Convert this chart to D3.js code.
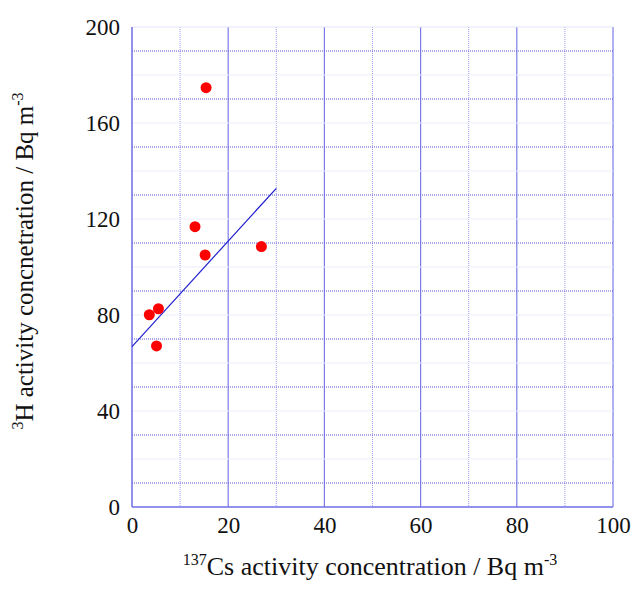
<!DOCTYPE html>
<html>
<head>
<meta charset="utf-8">
<script src="https://cdn.jsdelivr.net/npm/d3@7"></script>
<style>
  body { margin: 0; background: #fff; }
  text { font-family: "Liberation Serif", "Times New Roman", serif; fill: #111; }
</style>
</head>
<body>
<div id="chart"></div>
<script>
// 137Cs (x) vs 3H (y), Bq m-3
const cs137 = [15.4, 13.1, 15.2, 26.9, 3.6, 5.5, 5.1]
const tritium = [174.7, 116.8, 105, 108.5, 80.1, 82.6, 67.1]
// fitted line end points
const fitX = [0, 30]
const fitY = [66.8, 132.8]
const xTicks = [0, 20, 40, 60, 80, 100]
const yTicks = [0, 40, 80, 120, 160, 200]

const width = 637
const height = 592
const plotLeft = 132, plotRight = 613, plotTop = 27, plotBottom = 507

const xScale = d3.scaleLinear().domain([0, 100]).range([plotLeft, plotRight])
const yScale = d3.scaleLinear().domain([0, 200]).range([plotBottom, plotTop])

const svg = d3.select("#chart").append("svg")
    .attr("width", width)
    .attr("height", height)

//grid: vertical
svg.append("g").selectAll("line").data(d3.range(10, 100, 20)).join("line")
    .attr("x1", d => xScale(d)).attr("x2", d => xScale(d))
    .attr("y1", plotTop).attr("y2", plotBottom)
    .attr("stroke", "#9a9af0").attr("stroke-dasharray", "1,1")
svg.append("g").selectAll("line").data(d3.range(20, 101, 20)).join("line")
    .attr("x1", d => xScale(d)).attr("x2", d => xScale(d))
    .attr("y1", plotTop).attr("y2", plotBottom)
    .attr("stroke", "#7b7be8").attr("stroke-width", 1.2)

//grid: horizontal (dotted at 10, 30, ... 190)
svg.append("g").selectAll("line").data(d3.range(20, 200, 20)).join("line")
    .attr("x1", plotLeft).attr("x2", plotRight)
    .attr("y1", d => yScale(d)).attr("y2", d => yScale(d))
    .attr("stroke", "#ececfa")
svg.append("g").selectAll("line").data(d3.range(10, 200, 20)).join("line")
    .attr("x1", plotLeft).attr("x2", plotRight)
    .attr("y1", d => yScale(d)).attr("y2", d => yScale(d))
    .attr("stroke", "#5a5ad8").attr("stroke-dasharray", "1,1")

//frame
svg.append("line").attr("x1", plotLeft).attr("x2", plotRight).attr("y1", plotTop).attr("y2", plotTop)
    .attr("stroke", "#e4e4fa")
svg.append("line").attr("x1", plotLeft).attr("x2", plotLeft).attr("y1", plotTop).attr("y2", plotBottom)
    .attr("stroke", "#6e6ee6").attr("stroke-width", 1.5)
svg.append("line").attr("x1", plotLeft).attr("x2", plotRight).attr("y1", plotBottom).attr("y2", plotBottom)
    .attr("stroke", "#6e6ee6").attr("stroke-width", 1.5)

//axes via d3 (ticks hidden, only labels)
const xAxis = d3.axisBottom(xScale).tickValues(xTicks).tickSize(0).tickPadding(10)
const gx = svg.append("g").attr("transform", "translate(0," + plotBottom + ")").call(xAxis)
gx.select(".domain").remove()
gx.selectAll("text").attr("font-size", "23px").attr("font-family", "Liberation Serif").attr("fill", "#111")

const yAxis = d3.axisLeft(yScale).tickValues(yTicks).tickSize(0).tickPadding(12)
const gy = svg.append("g").attr("transform", "translate(" + plotLeft + ",0)").call(yAxis)
gy.select(".domain").remove()
gy.selectAll("text").attr("font-size", "23px").attr("font-family", "Liberation Serif").attr("fill", "#111")

//fit line
svg.append("line")
    .attr("x1", xScale(fitX[0])).attr("y1", yScale(fitY[0]))
    .attr("x2", xScale(fitX[1])).attr("y2", yScale(fitY[1]))
    .attr("stroke", "#2020d0").attr("stroke-width", 1.2)

//points
svg.append("g").selectAll("circle").data(cs137).join("circle")
    .attr("cx", d => xScale(d))
    .attr("cy", (d, i) => yScale(tritium[i]))
    .attr("r", 5.5)
    .attr("fill", "#ff0000")

//axis titles
const xt = svg.append("text")
    .attr("x", 370).attr("y", 575)
    .attr("text-anchor", "middle")
    .attr("font-size", "26px")
xt.append("tspan").text("137").attr("font-size", "16px").attr("dy", "-10")
xt.append("tspan").text("Cs activity concentration / Bq m").attr("dy", "10")
xt.append("tspan").text("-3").attr("font-size", "16px").attr("dy", "-10")

const yt = svg.append("text")
    .attr("transform", "translate(33,261) rotate(-90)")
    .attr("text-anchor", "middle")
    .attr("font-size", "25px")
yt.append("tspan").text("3").attr("font-size", "16px").attr("dy", "-10")
yt.append("tspan").text("H activity concnetration / Bq m").attr("dy", "10")
yt.append("tspan").text("-3").attr("font-size", "16px").attr("dy", "-10")
</script>
</body>
</html>
